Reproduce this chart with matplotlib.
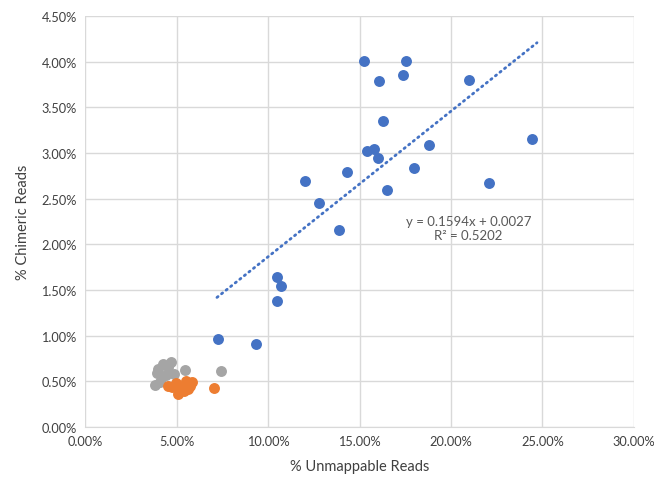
import matplotlib
matplotlib.use('Agg')
import matplotlib.pyplot as plt
from matplotlib.ticker import PercentFormatter, MultipleLocator
import numpy as np

# values as fractions
blue_x = [0.1523, 0.1752, 0.1735, 0.1605, 0.2100, 0.1630, 0.2445, 0.1880, 0.1580,
          0.1540, 0.1600, 0.1800, 0.1430, 0.1650, 0.1200, 0.2210, 0.1280, 0.1390,
          0.1050, 0.1070, 0.1050, 0.0726, 0.0933]
blue_y = [0.0401, 0.0401, 0.03855, 0.0379, 0.0380, 0.0335, 0.0315, 0.0309, 0.0304,
          0.0302, 0.0295, 0.0284, 0.0279, 0.0260, 0.0269, 0.0267, 0.0245, 0.0216,
          0.0164, 0.0154, 0.0138, 0.0096, 0.0091]

gray_x = [0.0382, 0.0393, 0.0398, 0.0420, 0.0426, 0.0453, 0.0469, 0.0486, 0.0442,
          0.0546, 0.0742, 0.0409]
gray_y = [0.0046, 0.0059, 0.0064, 0.0055, 0.0069, 0.0066, 0.0071, 0.0058, 0.0057,
          0.0062, 0.0061, 0.0049]

orange_x = [0.0453, 0.0475, 0.0497, 0.0508, 0.0519, 0.0540, 0.0551, 0.0573, 0.0584,
            0.0562, 0.0704]
orange_y = [0.0045, 0.0044, 0.0048, 0.0036, 0.0044, 0.0039, 0.0050, 0.0045, 0.0049,
            0.0042, 0.0043]

slope = 0.1594
intercept = 0.0027
r2 = 0.5202

plt.rcParams['font.family'] = ['Lato', 'DejaVu Sans']

fig = plt.figure(figsize=(6.54, 4.81), dpi=100)
ax = fig.add_axes([0.13, 0.110, 0.8394, 0.8547])

grid_c = '#D9D9D9'
ax.scatter(gray_x, gray_y, s=62, color='#A5A5A5', zorder=3, linewidths=0)
ax.scatter(orange_x, orange_y, s=62, color='#ED7D31', zorder=3, linewidths=0)
ax.scatter(blue_x, blue_y, s=62, color='#4472C4', zorder=3, linewidths=0)

tx = np.array([min(blue_x) - 0.0005, max(blue_x) + 0.0025])
ax.plot(tx, slope * tx + intercept, color='#4472C4', lw=2, ls=(0, (0.5, 1.6)),
        dash_capstyle='round', zorder=2)

ax.text(0.2096, 0.0218, 'y = %.4fx + %.4f\nR² = %.4f' % (slope, intercept, r2),
        ha='center', va='center', fontsize=9.5, color='#595959', linespacing=1.25,
        multialignment='center')

ax.set_xlim(0, 0.30)
ax.set_ylim(0, 0.045)
ax.xaxis.set_major_locator(MultipleLocator(0.05))
ax.yaxis.set_major_locator(MultipleLocator(0.005))
ax.xaxis.set_major_formatter(PercentFormatter(1.0, decimals=2))
ax.yaxis.set_major_formatter(PercentFormatter(1.0, decimals=2))
ax.grid(True, color=grid_c, lw=1)
ax.set_axisbelow(True)
for side in ['top', 'right', 'left']:
    ax.spines[side].set_visible(False)
ax.spines['bottom'].set_color(grid_c)
ax.tick_params(length=0, labelsize=9.2, labelcolor='#404040', pad=6)

ax.set_xlabel('% Unmappable Reads', fontsize=10.5, color='#404040', labelpad=8)
ax.set_ylabel('% Chimeric Reads', fontsize=10.5, color='#404040', labelpad=8)

fig.savefig('out.png', dpi=100)
